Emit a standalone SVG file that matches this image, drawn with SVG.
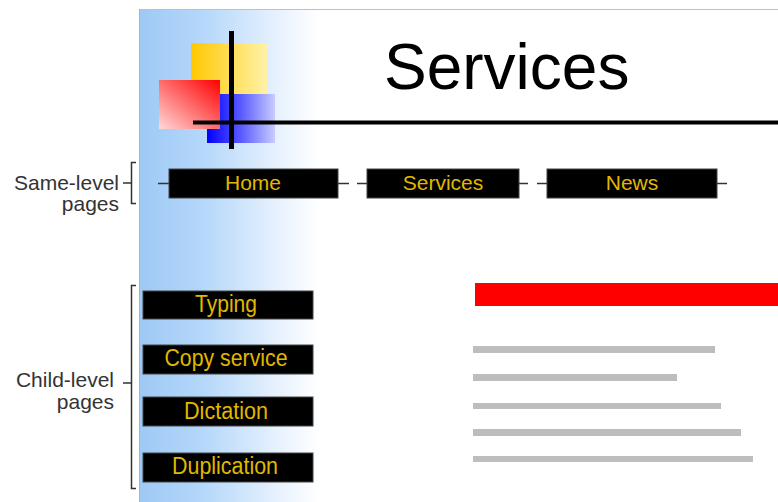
<svg xmlns="http://www.w3.org/2000/svg" width="778" height="502" viewBox="0 0 778 502">
<defs>
<linearGradient id="bg" x1="0" y1="0" x2="1" y2="0">
<stop offset="0" stop-color="#9ec9f5"/>
<stop offset="0.35" stop-color="#b4d7fa"/>
<stop offset="0.75" stop-color="#e4f0fd"/>
<stop offset="1" stop-color="#ffffff"/>
</linearGradient>
<linearGradient id="gy" x1="0" y1="0" x2="1" y2="0">
<stop offset="0" stop-color="#ffc800"/>
<stop offset="1" stop-color="#fff2a8"/>
</linearGradient>
<linearGradient id="gr" x1="1" y1="0" x2="0" y2="1">
<stop offset="0" stop-color="#ff0000"/>
<stop offset="1" stop-color="#ffd8d8"/>
</linearGradient>
<linearGradient id="gb" x1="0" y1="0" x2="1" y2="0">
<stop offset="0" stop-color="#0000ff"/>
<stop offset="0.5" stop-color="#5a5aff"/>
<stop offset="1" stop-color="#c8ccff"/>
</linearGradient>
</defs>
<style>
.btn{fill:#000000;stroke:#444;stroke-width:1}
.bt{font-family:"Liberation Sans",Arial,sans-serif;fill:#e0b800;text-anchor:middle}
.nav{font-size:21px}
.child{font-size:23px}
.lbl{font-family:"Liberation Sans",Arial,sans-serif;font-size:21px;fill:#333333;text-anchor:end}
.conn{stroke:#333333;stroke-width:1.5;fill:none}
.gl{fill:#bdbdbd}
</style>
<rect width="778" height="502" fill="#ffffff"/>
<g id="page">
<rect x="139" y="9" width="639" height="493" fill="#ffffff"/>
<rect x="139" y="9" width="180" height="493" fill="url(#bg)"/>
<line x1="139" y1="9.5" x2="778" y2="9.5" stroke="#c0c0c0" stroke-width="1"/>
<line x1="139.5" y1="9" x2="139.5" y2="502" stroke="#9ab8d8" stroke-width="1"/>
</g>
<g id="logo">
<rect x="191" y="43" width="76" height="52" fill="url(#gy)"/>
<rect x="207" y="94" width="68" height="49" fill="url(#gb)"/>
<rect x="159" y="80" width="61" height="49" fill="url(#gr)"/>
<rect x="229" y="31" width="5" height="118" fill="#000000"/>
<rect x="193" y="120.5" width="585" height="4" fill="#000000"/>
</g>
<g id="title">
<text x="384" y="89" font-family="'Liberation Sans',Arial,sans-serif" font-size="64" fill="#000000">Services</text>
</g>
<g id="connectors">
<line class="conn" x1="158" y1="183.5" x2="169" y2="183.5"/>
<line class="conn" x1="338" y1="183.5" x2="349" y2="183.5"/>
<line class="conn" x1="357" y1="183.5" x2="367" y2="183.5"/>
<line class="conn" x1="519" y1="183.5" x2="528" y2="183.5"/>
<line class="conn" x1="537" y1="183.5" x2="547" y2="183.5"/>
<line class="conn" x1="717" y1="183.5" x2="727" y2="183.5"/>
<path class="conn" d="M136,162.5 H131.5 V203.5 H136 M131.5,183 H123"/>
<path class="conn" d="M136,285.5 H131.5 V488.5 H136 M131.5,383 H123"/>
</g>
<g id="nav-home"><rect class="btn" x="169" y="169" width="169" height="29"/><text class="bt nav" x="253" y="190">Home</text></g>
<g id="nav-services"><rect class="btn" x="367" y="169" width="152" height="29"/><text class="bt nav" x="443" y="190">Services</text></g>
<g id="nav-news"><rect class="btn" x="547" y="169" width="170" height="29"/><text class="bt nav" x="632" y="190">News</text></g>
<g id="child-typing"><rect class="btn" x="143" y="291" width="170" height="28"/><text class="bt child" x="226" y="312" textLength="62" lengthAdjust="spacingAndGlyphs">Typing</text></g>
<g id="child-copy"><rect class="btn" x="143" y="345" width="170" height="29"/><text class="bt child" x="226" y="366" textLength="123" lengthAdjust="spacingAndGlyphs">Copy service</text></g>
<g id="child-dictation"><rect class="btn" x="143" y="397" width="170" height="29"/><text class="bt child" x="226" y="419" textLength="84" lengthAdjust="spacingAndGlyphs">Dictation</text></g>
<g id="child-duplication"><rect class="btn" x="143" y="453" width="170" height="29"/><text class="bt child" x="225" y="474" textLength="106" lengthAdjust="spacingAndGlyphs">Duplication</text></g>
<g id="label-same">
<text class="lbl" x="119" y="190">Same-level</text>
<text class="lbl" x="119" y="211">pages</text>
</g>
<g id="label-child">
<text class="lbl" x="114" y="387">Child-level</text>
<text class="lbl" x="114" y="409">pages</text>
</g>
<g id="content">
<rect x="475" y="283" width="303" height="23" fill="#ff0000"/>
<rect class="gl" x="473" y="346" width="242" height="7"/>
<rect class="gl" x="473" y="374" width="204" height="7"/>
<rect class="gl" x="473" y="403" width="248" height="6"/>
<rect class="gl" x="473" y="429" width="268" height="7"/>
<rect class="gl" x="473" y="456" width="280" height="6"/>
</g>
</svg>
